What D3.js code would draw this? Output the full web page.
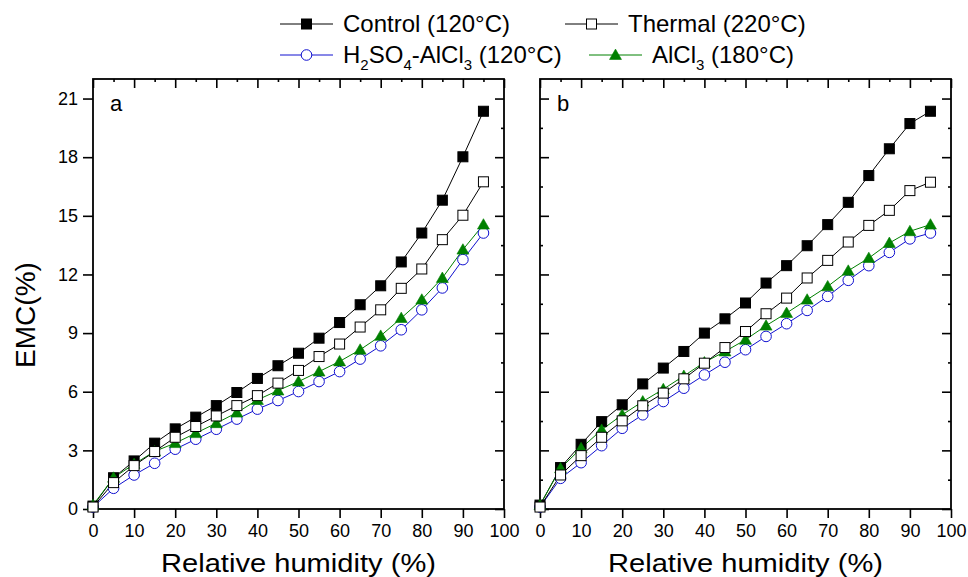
<!DOCTYPE html>
<html><head><meta charset="utf-8">
<script src="https://cdn.jsdelivr.net/npm/d3@7"></script>
<style>body{margin:0;background:#fff}svg{display:block}text{font-family:"Liberation Sans",Arial,sans-serif}</style>
</head><body><svg id="c" width="968" height="577"></svg>
<script>
const rh = [0,5,10,15,20,25,30,35,40,45,50,55,60,65,70,75,80,85,90,95];
const xTicks = [0,10,20,30,40,50,60,70,80,90,100];
const yTicks = [0,3,6,9,12,15,18,21];
// Panel a
const aControl = [0.15,1.60,2.46,3.37,4.10,4.70,5.29,5.96,6.68,7.33,7.97,8.74,9.54,10.45,11.42,12.64,14.12,15.80,18.02,20.35];
const aThermal = [0.10,1.35,2.22,2.94,3.67,4.22,4.76,5.29,5.80,6.44,7.09,7.80,8.44,9.31,10.19,11.29,12.28,13.78,15.03,16.74];
const aH2SO4   = [0.10,1.06,1.74,2.34,3.06,3.57,4.08,4.60,5.11,5.55,6.01,6.52,7.03,7.67,8.35,9.17,10.19,11.31,12.76,14.12];
const aAlCl3   = [0.20,1.60,2.30,2.95,3.37,3.88,4.39,4.93,5.58,6.06,6.52,7.03,7.55,8.15,8.86,9.77,10.71,11.82,13.27,14.55];
// Panel b
const bControl = [0.20,2.12,3.31,4.47,5.33,6.40,7.21,8.06,9.00,9.73,10.54,11.56,12.45,13.47,14.55,15.69,17.06,18.43,19.72,20.35];
const bThermal = [0.10,1.74,2.73,3.67,4.51,5.28,5.93,6.66,7.46,8.26,9.08,9.99,10.79,11.82,12.72,13.66,14.51,15.28,16.29,16.72];
const bH2SO4   = [0.10,1.57,2.37,3.24,4.13,4.82,5.50,6.18,6.86,7.51,8.15,8.83,9.48,10.16,10.88,11.70,12.45,13.13,13.82,14.12];
const bAlCl3   = [0.20,2.08,3.11,4.05,4.82,5.50,6.13,6.81,7.50,8.06,8.66,9.38,10.03,10.71,11.39,12.19,12.84,13.61,14.21,14.55];

const svg = d3.select('#c');
const yTop = 79, yBot = 509;
const y = d3.scaleLinear().domain([0,22]).range([yBot,yTop]);

const styles = {
  control: {color:'#000', shape:'square', fill:'#000'},
  thermal: {color:'#000', shape:'square', fill:'#fff'},
  h2so4:   {color:'#1010d0', shape:'circle', fill:'#fff'},
  alcl3:   {color:'#008000', shape:'triangle', fill:'#008000'}
};
function marker(g, st, cx, cy){
  if(st.shape==='square'){
    g.append('rect').attr('x',cx-5).attr('y',cy-5).attr('width',10).attr('height',10)
      .attr('fill',st.fill).attr('stroke',st.color).attr('stroke-width',1);
  } else if(st.shape==='circle'){
    g.append('circle').attr('cx',cx).attr('cy',cy).attr('r',5.3)
      .attr('fill',st.fill).attr('stroke',st.color).attr('stroke-width',1);
  } else {
    const s=d3.symbol().type(d3.symbolTriangle).size(62)();
    g.append('path').attr('d',s).attr('transform',`translate(${cx},${cy+1})`)
      .attr('fill',st.fill).attr('stroke',st.color).attr('stroke-width',0.6);
  }
}

const panels = [
  {x0:93, x1:504, label:'a', leftLabels:true, data:{control:aControl,thermal:aThermal,h2so4:aH2SO4,alcl3:aAlCl3}},
  {x0:540, x1:951, label:'b', leftLabels:false, data:{control:bControl,thermal:bThermal,h2so4:bH2SO4,alcl3:bAlCl3}}
];
const drawOrder = ['h2so4','control','alcl3','thermal'];

panels.forEach(p=>{
  const x = d3.scaleLinear().domain([0,100]).range([p.x0,p.x1]);
  const g = svg.append('g');
  g.append('g').attr('transform',`translate(0,${yBot})`)
    .call(d3.axisBottom(x).tickValues(xTicks).tickSize(9).tickSizeOuter(0).tickPadding(6));
  g.append('g').attr('transform',`translate(0,${yTop})`)
    .call(d3.axisBottom(x).tickValues(xTicks).tickSize(9).tickSizeOuter(0).tickFormat(''));
  g.append('g').attr('transform',`translate(0,${yTop})`)
    .call(d3.axisBottom(x).tickValues(d3.range(5,100,10)).tickSize(3).tickSizeOuter(0).tickFormat(''));
  if(p.leftLabels){
    g.append('g').attr('transform',`translate(${p.x0},0)`)
      .call(d3.axisLeft(y).tickValues(yTicks).tickSize(10).tickSizeOuter(0).tickPadding(5));
  } else {
    g.append('g').attr('transform',`translate(${p.x0},0)`)
      .call(d3.axisRight(y).tickValues(yTicks).tickSize(9).tickSizeOuter(0).tickFormat(''));
    g.append('g').attr('transform',`translate(${p.x0},0)`)
      .call(d3.axisRight(y).tickValues(d3.range(1.5,22,3)).tickSize(3).tickSizeOuter(0).tickFormat(''));
  }
  g.append('g').attr('transform',`translate(${p.x1},0)`)
    .call(d3.axisLeft(y).tickValues(yTicks).tickSize(9).tickSizeOuter(0).tickFormat(''));
  g.append('g').attr('transform',`translate(${p.x1},0)`)
    .call(d3.axisLeft(y).tickValues(d3.range(1.5,22,3)).tickSize(3).tickSizeOuter(0).tickFormat(''));
  g.selectAll('.domain').remove();
  g.selectAll('.tick line').attr('stroke','#000').attr('stroke-width',1.6);
  g.selectAll('.tick text').attr('font-size',18).attr('fill','#000')
    .attr('font-family','"Liberation Sans",Arial,sans-serif');
  g.append('rect').attr('x',p.x0).attr('y',yTop).attr('width',p.x1-p.x0).attr('height',yBot-yTop)
    .attr('fill','none').attr('stroke','#000').attr('stroke-width',1.8);
  g.append('text').attr('x',p.x0+17).attr('y',111).attr('font-size',22).text(p.label);
  g.append('text').attr('x',(p.x0+p.x1)/2).attr('y',572).attr('text-anchor','middle')
    .attr('font-size',26).attr('textLength',275).attr('lengthAdjust','spacingAndGlyphs')
    .text('Relative humidity (%)');
  const line = d3.line().x((d,i)=>x(rh[i])).y(d=>y(d));
  drawOrder.forEach(k=>{
    g.append('path').attr('d',line(p.data[k])).attr('fill','none')
      .attr('stroke',styles[k].color).attr('stroke-width',1);
  });
  drawOrder.forEach(k=>{
    const mg = g.append('g');
    p.data[k].forEach((v,i)=>marker(mg, styles[k], x(rh[i]), y(v)));
  });
});

svg.append('text').attr('transform','translate(35,315) rotate(-90)').attr('text-anchor','middle')
  .attr('font-size',28).text('EMC(%)');

// legend
const legend = [
  {k:'control', lx:280, ty:32, tx:343, parts:[['Control (120°C)',0]]},
  {k:'thermal', lx:565, ty:32, tx:628, parts:[['Thermal (220°C)',0]]},
  {k:'h2so4',   lx:280, ty:63, tx:343, parts:[['H',0],['2',1],['SO',0],['4',1],['-AlCl',0],['3',1],[' (120°C)',0]]},
  {k:'alcl3',   lx:589, ty:63, tx:652, parts:[['AlCl',0],['3',1],[' (180°C)',0]]}
];
legend.forEach(l=>{
  const st = styles[l.k];
  const cy = l.ty-8;
  svg.append('line').attr('x1',l.lx).attr('x2',l.lx+53).attr('y1',cy).attr('y2',cy)
    .attr('stroke',st.color).attr('stroke-width',1);
  marker(svg, st, l.lx+26.5, cy);
  const t = svg.append('text').attr('x',l.tx).attr('y',l.ty).attr('font-size',24);
  let prevSub=false;
  l.parts.forEach(([s,sub])=>{
    const ts = t.append('tspan').text(s);
    if(sub){ ts.attr('font-size',15); }
    if(sub && !prevSub) ts.attr('dy',7);
    else if(!sub && prevSub) ts.attr('dy',-7);
    prevSub = !!sub;
  });
});
</script></body></html>
